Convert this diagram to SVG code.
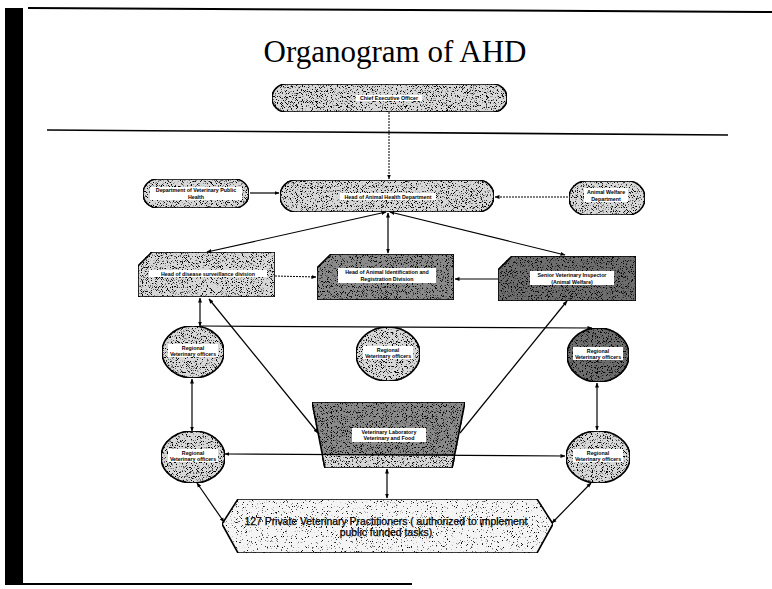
<svg xmlns="http://www.w3.org/2000/svg" width="772" height="589" viewBox="0 0 772 589">
  <style>
    .frame { stroke: #000; fill: none; }
    .node { stroke: #000; stroke-width: 1.6; filter: url(#grain); }
    .sparse { filter: url(#grain-sparse); }
    .light { fill: #f4f4f4; }
    .mid { fill: #d8d8d8; }
    .dark { fill: #8a8a8a; }
    .darker { fill: #6e6e6e; }
    .tag { fill: #fff; }
    .lbl { font-family: "Liberation Sans", Arial, sans-serif; font-weight: bold; font-size: 5.3px; fill: #000; text-anchor: middle; }
    .big { font-family: "Liberation Sans", Arial, sans-serif; font-size: 10.4px; fill: #000; stroke: #000; stroke-width: 0.25; text-anchor: middle; }
    .title { font-family: "Liberation Serif", "Times New Roman", serif; font-size: 31px; fill: #000; text-anchor: middle; }
    .link { stroke: #000; stroke-width: 1.2; fill: none; }
    .two { marker-start: url(#arr); marker-end: url(#arr); }
    .one { marker-end: url(#arr); }
    .dot { stroke-dasharray: 2 1; stroke-width: 1; }
  </style>
  <defs>
    <!-- stippled texture for the node fills -->
    <filter id="grain" x="0%" y="0%" width="100%" height="100%" color-interpolation-filters="sRGB">
      <feTurbulence type="fractalNoise" baseFrequency="1.2" numOctaves="1" seed="7" result="noise"/>
      <feColorMatrix in="noise" type="matrix" values="0 0 0 0 0  0 0 0 0 0  0 0 0 0 0  10 0 0 0 -5.6" result="dots"/>
      <feComposite in="dots" in2="SourceAlpha" operator="in" result="clipped"/>
      <feMerge><feMergeNode in="SourceGraphic"/><feMergeNode in="clipped"/></feMerge>
    </filter>
    <!-- thinner stipple for the pale practitioners panel -->
    <filter id="grain-sparse" x="0%" y="0%" width="100%" height="100%" color-interpolation-filters="sRGB">
      <feTurbulence type="fractalNoise" baseFrequency="1.2" numOctaves="1" seed="3" result="noise"/>
      <feColorMatrix in="noise" type="matrix" values="0 0 0 0 0  0 0 0 0 0  0 0 0 0 0  10 0 0 0 -6.3" result="dots"/>
      <feComposite in="dots" in2="SourceAlpha" operator="in" result="clipped"/>
      <feMerge><feMergeNode in="SourceGraphic"/><feMergeNode in="clipped"/></feMerge>
    </filter>
    <marker id="arr" viewBox="0 0 10 10" refX="9" refY="5" markerWidth="5" markerHeight="5" orient="auto-start-reverse" markerUnits="userSpaceOnUse">
      <path d="M0,1 L10,5 L0,9 Z" fill="#000"/>
    </marker>
  </defs>

  <rect width="772" height="589" fill="#fff"/>

  <!-- page frame: left bar, top and bottom rules, title rule -->
  <g id="frame">
    <rect x="5" y="8" width="18" height="577" fill="#000"/>
    <path class="frame" stroke-width="2" d="M28,8 L772,12"/>
    <path class="frame" stroke-width="2" d="M8,584 L412,584"/>
    <path class="frame" stroke-width="1.6" d="M47,130 L728,135"/>
  </g>

  <text class="title" x="395" y="62">Organogram of AHD</text>

  <g id="ceo">
    <rect class="node mid" x="272" y="84" width="235" height="28" rx="14"/>
    <rect class="tag" x="356" y="95" width="66" height="6"/>
    <text class="lbl" x="389" y="100">Chief Executive Officer</text>
  </g>

  <g id="vph">
    <rect class="node mid" x="143" y="179" width="106" height="29" rx="14.5"/>
    <rect class="tag" x="150" y="187" width="92" height="13"/>
    <text class="lbl" x="196" y="192">Department of Veterinary Public</text>
    <text class="lbl" x="196" y="199">Health</text>
  </g>

  <g id="head-ahd">
    <rect class="node mid" x="280" y="180" width="214" height="32" rx="16"/>
    <rect class="tag" x="340" y="193" width="96" height="7"/>
    <text class="lbl" x="388" y="199">Head of Animal Health Department</text>
  </g>

  <g id="welfare">
    <rect class="node mid" x="569" y="181" width="76" height="34" rx="17"/>
    <rect class="tag" x="584" y="188" width="44" height="14"/>
    <text class="lbl" x="606" y="194">Animal Welfare</text>
    <text class="lbl" x="606" y="200.5">Department</text>
  </g>

  <g id="surveillance">
    <path class="node mid" d="M152,252 L275,252 L275,297 L138,297 L138,266 Z"/>
    <rect class="tag" x="149" y="270" width="118" height="7"/>
    <text class="lbl" x="208" y="276">Head of disease surveillance division</text>
  </g>

  <g id="registration">
    <path class="node dark" d="M331,254 L454,254 L454,300 L317,300 L317,268 Z"/>
    <rect class="tag" x="338" y="268" width="98" height="15"/>
    <text class="lbl" x="387" y="274">Head of Animal Identification and</text>
    <text class="lbl" x="387" y="281">Registration Division</text>
  </g>

  <g id="inspector">
    <path class="node darker" d="M512,256 L636,256 L636,301 L498,301 L498,270 Z"/>
    <rect class="tag" x="530" y="271" width="84" height="14"/>
    <text class="lbl" x="572" y="277">Senior Veterinary Inspector</text>
    <text class="lbl" x="572" y="283.5">(Animal Welfare)</text>
  </g>

  <g id="rvo-1">
    <ellipse class="node mid" cx="193" cy="352" rx="31" ry="26"/>
    <rect class="tag" x="168" y="344" width="50" height="13"/>
    <text class="lbl" x="193" y="349.5">Regional</text>
    <text class="lbl" x="193" y="356">Veterinary officers</text>
  </g>

  <g id="rvo-2">
    <ellipse class="node mid" cx="388" cy="354" rx="32" ry="27"/>
    <rect class="tag" x="363" y="346" width="50" height="13"/>
    <text class="lbl" x="388" y="351.5">Regional</text>
    <text class="lbl" x="388" y="358">Veterinary officers</text>
  </g>

  <g id="rvo-3">
    <ellipse class="node darker" cx="598" cy="355" rx="31" ry="27"/>
    <rect class="tag" x="573" y="347" width="50" height="13"/>
    <text class="lbl" x="598" y="352.5">Regional</text>
    <text class="lbl" x="598" y="359">Veterinary officers</text>
  </g>

  <g id="rvo-4">
    <ellipse class="node mid" cx="193" cy="457" rx="32" ry="26"/>
    <rect class="tag" x="168" y="449" width="50" height="13"/>
    <text class="lbl" x="193" y="454.5">Regional</text>
    <text class="lbl" x="193" y="461">Veterinary officers</text>
  </g>

  <g id="rvo-5">
    <ellipse class="node mid" cx="598" cy="457" rx="32" ry="26"/>
    <rect class="tag" x="573" y="449" width="50" height="13"/>
    <text class="lbl" x="598" y="454.5">Regional</text>
    <text class="lbl" x="598" y="461">Veterinary officers</text>
  </g>

  <g id="laboratory">
    <path class="node dark" d="M312,402 L465,402 L452,468 L325,468 Z"/>
    <path class="node mid" d="M322,454 L455,454 L452,468 L325,468 Z"/>
    <rect class="tag" x="352" y="428" width="74" height="14"/>
    <text class="lbl" x="389" y="433.5">Veterinary Laboratory</text>
    <text class="lbl" x="389" y="440">Veterinary and Food</text>
  </g>

  <g id="practitioners">
    <path class="node sparse light" d="M238,499 L537,499 L553,524 L537,553 L238,553 L222,524 Z"/>
    <text class="big" x="386" y="525">127 Private Veterinary Practitioners ( authorized to implement</text>
    <text class="big" x="386" y="536">public funded tasks)</text>
  </g>

  <g id="connectors">
    <path class="link dot one" d="M389,112 L389,179"/>
    <path class="link one" d="M250,193 L279,193"/>
    <path class="link dot one" d="M568,197 L495,197"/>
    <path class="link two" d="M386,212 L207,252"/>
    <path class="link two" d="M388,213 L388,253"/>
    <path class="link two" d="M390,212 L565,255"/>
    <path class="link dot one" d="M275,276 L316,277"/>
    <path class="link one" d="M498,279 L455,279"/>
    <path class="link two" d="M200,298 L200,326"/>
    <path class="link one" d="M200,326 L592,328"/>
    <path class="link two" d="M209,299 L318,433"/>
    <path class="link one" d="M460,433 L567,301"/>
    <path class="link two" d="M192,379 L192,431"/>
    <path class="link two" d="M597,383 L597,430"/>
    <path class="link two" d="M225,454 L565,456"/>
    <path class="link two" d="M387,469 L387,498"/>
    <path class="link two" d="M197,483 L224,522"/>
    <path class="link two" d="M591,483 L552,523"/>
  </g>
</svg>
